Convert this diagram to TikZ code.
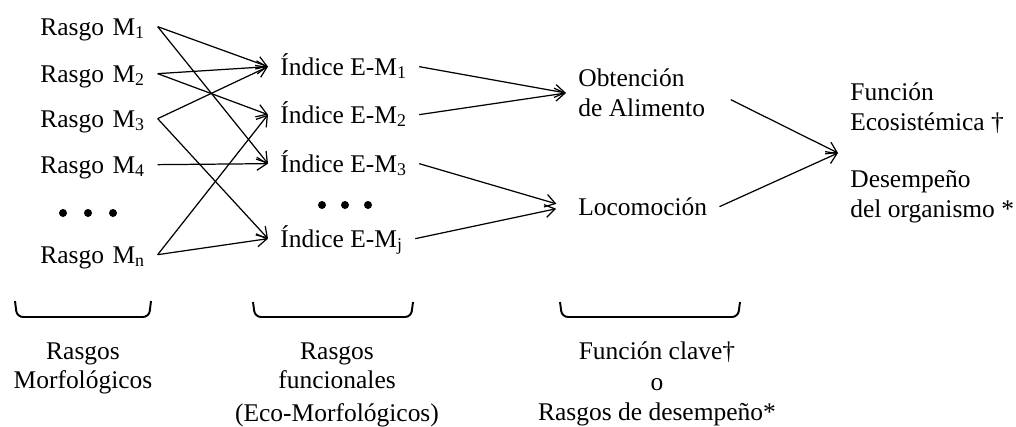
\documentclass[tikz,border=0pt]{standalone}
\usepackage{fontspec}
\setmainfont{Liberation Serif}
\usetikzlibrary{arrows.meta}

\tikzset{
  flecha/.style={-{Straight Barb[length=2mm,width=2.6mm]}, line width=0.7pt},
  llave/.style={line width=1.1pt, rounded corners=1.2mm},
  rasgo/.style={anchor=base west, inner xsep=0pt, inner ysep=0pt,
    text height=11pt, text depth=1.5pt, text width=2.34cm, align=left},
  indice/.style={anchor=base west, inner xsep=0.24cm, inner ysep=0pt,
    text height=11pt, text depth=1.5pt},
  bloque/.style={anchor=west, inner xsep=0.24cm, inner ysep=0pt, align=left},
  etiqueta/.style={anchor=north, inner sep=0pt, align=center},
}

\begin{document}
\begin{tikzpicture}[x=0.02cm, y=-0.02cm, font=\fontsize{14.5}{17}\selectfont]
	\useasboundingbox (0,0) rectangle (1016,426);
	% rasgos morfologicos
	\node[rasgo] (m1) at (40,35) {Rasgo M\textsubscript{1}};
	\node[rasgo] (m2) at (40,82) {Rasgo M\textsubscript{2}};
	\node[rasgo] (m3) at (40,127) {Rasgo M\textsubscript{3}};
	\node[rasgo] (m4) at (40,173) {Rasgo M\textsubscript{4}};
	\node[rasgo] (mn) at (40,263) {Rasgo M\textsubscript{n}};
	\foreach \x in {63,88,113} \fill (\x,213) circle (0.08cm);
	%
	\node[indice] (i1) at (268,75) {Índice E-M\textsubscript{1}};
	\node[indice] (i2) at (268,123) {Índice E-M\textsubscript{2}};
	\node[indice] (i3) at (268,172) {Índice E-M\textsubscript{3}};
	\node[indice] (ij) at (268,247) {Índice E-M\textsubscript{j}};
	\foreach \x in {322,345,368} \fill (\x,205) circle (0.08cm);
	%
	\node[bloque] (ali) at (566,93) {Obtención\\de Alimento};
	\node[indice] (loc) at (566,215) {Locomoción};
	\node[bloque] (fin) at (838,153) {Función\\Ecosistémica \textdagger\\[0.54cm]Desempeño\\del organismo *};
	% flechas
	\foreach \a/\b in {m1/i1,m1/i3,m2/i1,m2/i2,m3/i1,m3/ij,m4/i3,mn/i2,mn/ij}
		\draw[flecha] (\a.east) -- (\b.west);
	\draw[flecha] (i1.east) -- (ali.west);
	\draw[flecha] (i2.east) -- (ali.west);
	\draw[flecha, shorten >=0.2cm] (i3.east) -- (loc.west);
	\draw[flecha, shorten >=0.2cm] (ij.east) -- (loc.west);
	\draw[flecha, shorten <=0.3cm] (ali.east) -- (fin.west);
	\draw[flecha] (loc.east) -- (fin.west);
	% llaves
	\draw[llave] (15,301) -- (17,317) -- (149,317) -- (151,301);
	\draw[llave] (253,302) -- (255,317) -- (411,317) -- (413,302);
	\draw[llave] (560,302) -- (562,317) -- (738,317) -- (740,302);
	%
	\node[etiqueta] (lab1) at (83,342) {Rasgos\\Morfológicos};
	\node[etiqueta] (lab2) at (337,342) {Rasgos\\funcionales\\[0.06cm](Eco-Morfológicos)};
	\node[etiqueta] (lab3) at (657,341) {Función clave\textdagger\\[0.04cm]o\\Rasgos de desempeño*};
\end{tikzpicture}
\end{document}
